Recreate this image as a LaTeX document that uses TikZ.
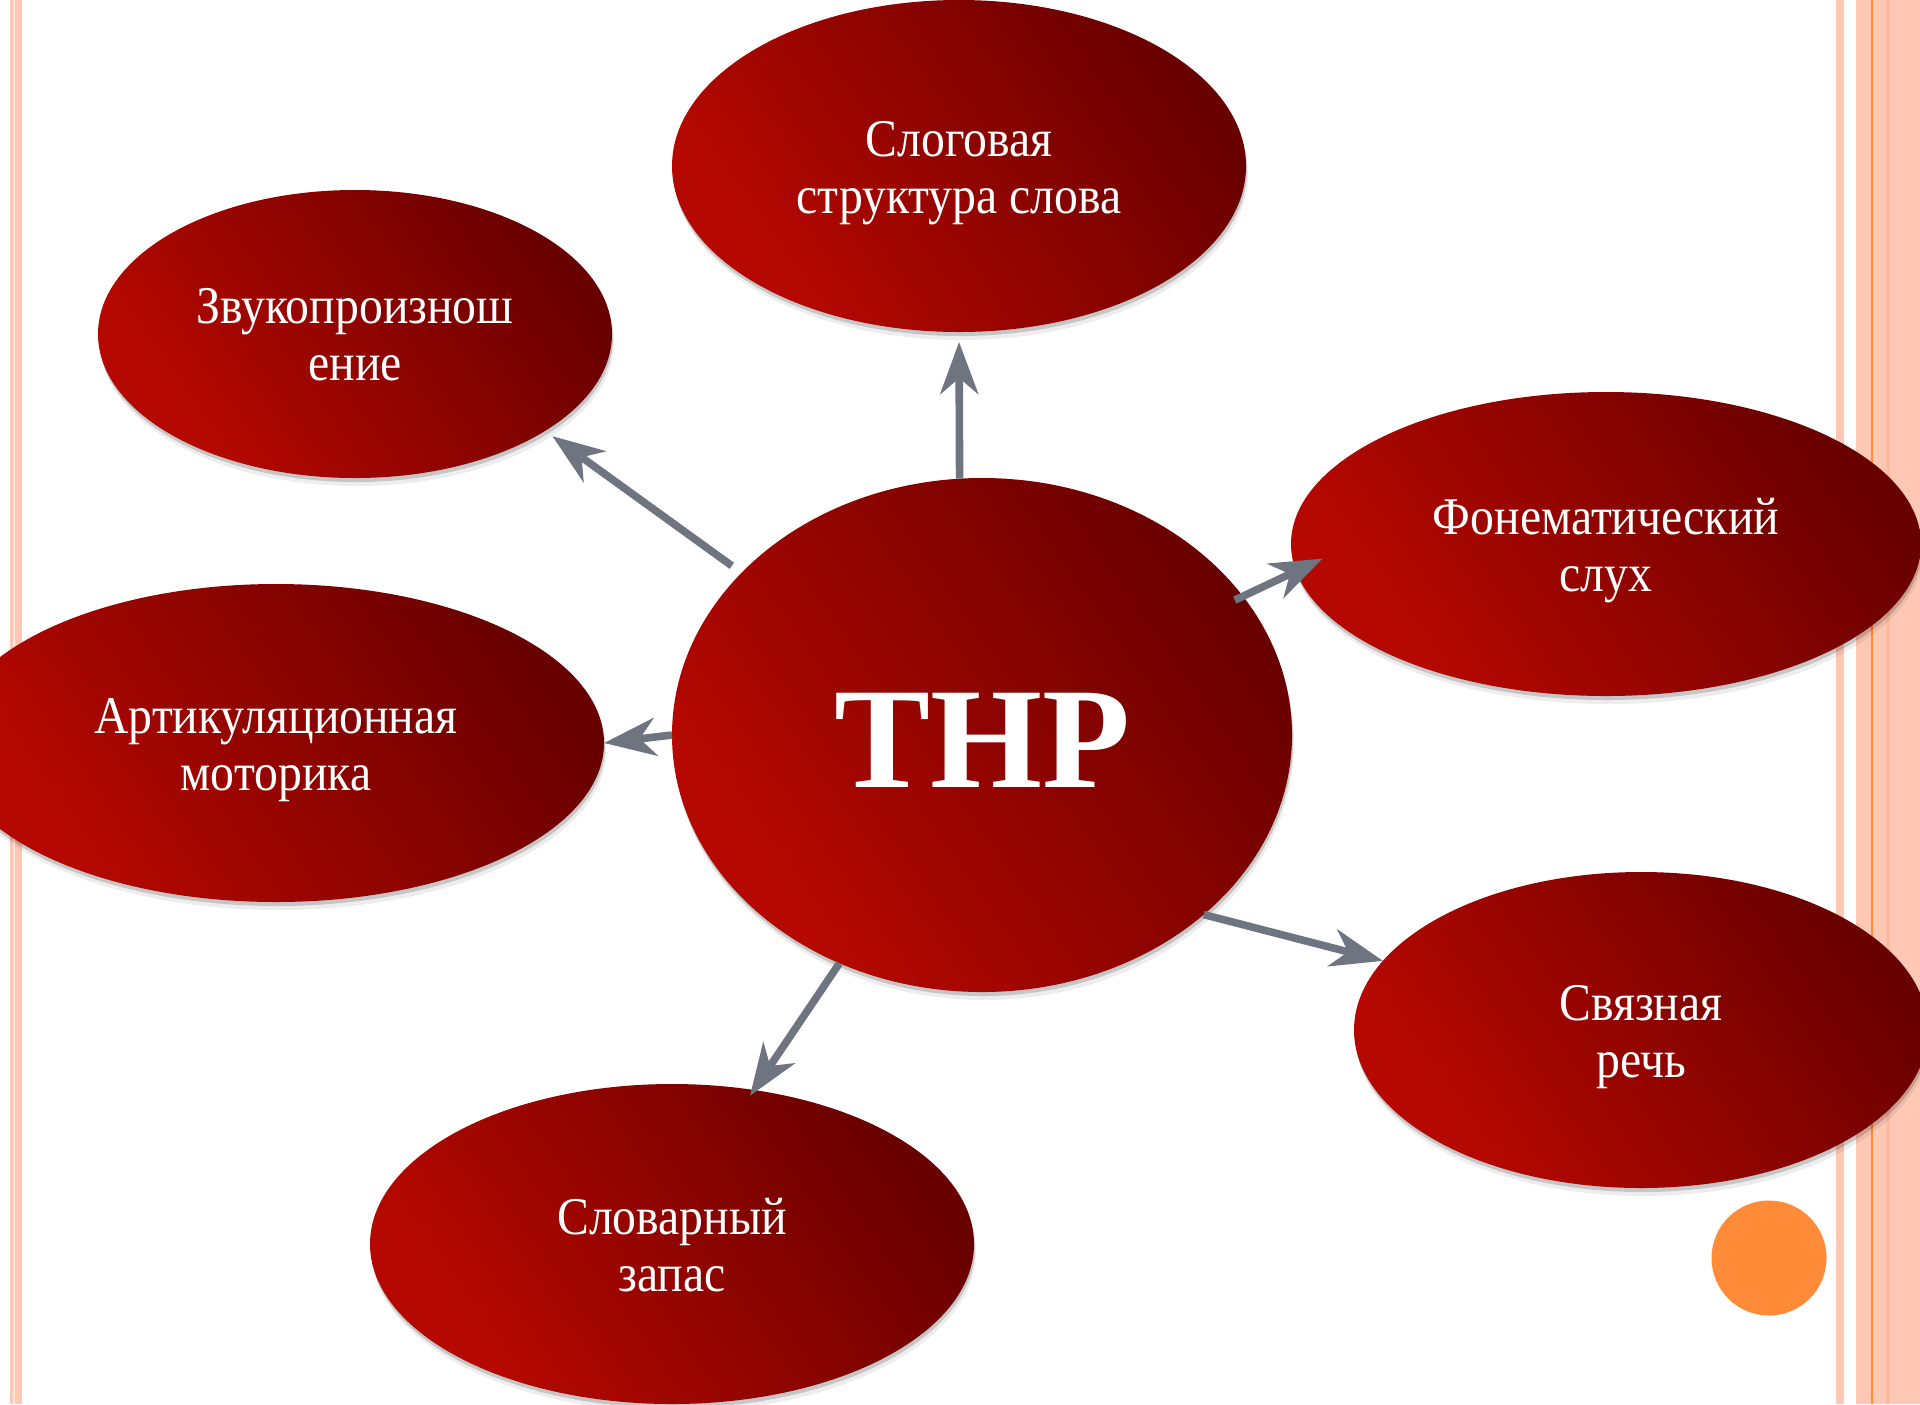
\documentclass[tikz,border=0pt]{standalone}
\usepackage{fontspec}
\setmainfont{Liberation Serif}
\newfontfamily\lblfont[FakeStretch=0.9]{Liberation Serif}
\usetikzlibrary{arrows.meta,shapes.geometric,shadows}
\definecolor{rbright}{RGB}{180,8,0}
\definecolor{rdark}{RGB}{104,0,0}
\definecolor{stripe}{RGB}{255,200,181}
\definecolor{stripelight}{RGB}{255,232,224}
\definecolor{stripedark}{RGB}{255,187,160}
\definecolor{stripeorange}{RGB}{255,140,55}
\definecolor{dotorange}{RGB}{255,138,56}
\definecolor{arrowgray}{RGB}{111,117,128}
\pgfdeclarehorizontalshading{redgrad}{100bp}{color(0bp)=(rbright); color(28bp)=(rbright); color(75bp)=(rdark); color(100bp)=(rdark)}
\tikzset{
  bubble/.style={ellipse, inner sep=0pt, outer sep=0pt, shading=redgrad, shading angle=35,
    drop shadow={shadow xshift=0.5pt, shadow yshift=-2pt, opacity=0.16, fill=black},
    drop shadow={shadow xshift=1pt, shadow yshift=-4pt, opacity=0.07, fill=black}},
  lbl/.style={text=white, align=center, inner sep=0pt, yshift=-3.5pt,
    font=\lblfont\fontsize{26.5}{28.5}\selectfont},
  conn/.style={draw=arrowgray, line width=3.8pt, -{Stealth[length=26pt,width=19pt,inset=8pt]}},
}
\begin{document}
\begin{tikzpicture}[x=0.5pt,y=-0.5pt]
\useasboundingbox (0,0) rectangle (1920,1404);
\clip (0,0) rectangle (1920,1404);
\fill[white] (0,0) rectangle (1920,1404);
% left border stripes
\fill[stripe] (10,0) rectangle (12.5,1404);
\fill[stripelight] (12.5,0) rectangle (14.7,1404);
\fill[stripe] (14.7,0) rectangle (22,1404);
% right border stripes
\fill[stripe] (1836,0) rectangle (1844,1404);
\fill[stripe] (1856,0) rectangle (1920,1404);
\fill[stripeorange] (1871,0) rectangle (1873,1404);
\fill[stripedark] (1886,0) rectangle (1890,1404);
% orange dot
\fill[dotorange] (1769,1258) circle[radius=28.75pt];
% bubbles
\node[bubble, minimum width=287pt, minimum height=166pt] (slog) at (959,166) {};
\node[bubble, minimum width=257pt, minimum height=144pt] (zvuk) at (355,334) {};
\node[bubble, minimum width=315pt, minimum height=152pt] (fon) at (1606,544) {};
\node[bubble, minimum width=328pt, minimum height=159pt] (art) at (276,743) {};
\node[bubble, minimum width=287pt, minimum height=158pt] (svyaz) at (1641,1030) {};
\node[bubble, minimum width=302pt, minimum height=160pt] (slov) at (672,1244) {};
\node[bubble, minimum width=310pt, minimum height=257pt] (thnr) at (982,735) {};
% labels
\node[lbl] (slogt) at (slog.center) {Слоговая\\структура слова};
\node[lbl, yshift=3pt] (zvukt) at (zvuk.center) {Звукопроизнош\\ение};
\node[lbl] (font) at (fon.center) {Фонематический\\слух};
\node[lbl] (artt) at (art.center) {Артикуляционная\\моторика};
\node[lbl] (svyazt) at (svyaz.center) {Связная\\речь};
\node[lbl, yshift=3pt] (slovt) at (slov.center) {Словарный\\запас};
\node[text=white, inner sep=0pt, yshift=-2.5pt, font=\bfseries\fontsize{72}{80}\selectfont] (thnrt) at (thnr.center) {ТНР};
% connectors
\draw[conn, shorten >=5pt] (thnr.95) -- (slog.270);
\draw[conn, shorten <=6pt, shorten >=4.5pt] (thnr.146) -- (zvuk.-27);
\draw[conn, shorten <=-4.5pt, shorten >=-14.6pt] (thnr.28.7) -- (fon.185.8);
\draw[conn] (thnr.180) -- (art.0);
\draw[conn] (thnr.-39.4) -- (svyaz.165);
\draw[conn, shorten >=-3.5pt] (thnr.-122) -- (slov.62.4);
\end{tikzpicture}
\end{document}
